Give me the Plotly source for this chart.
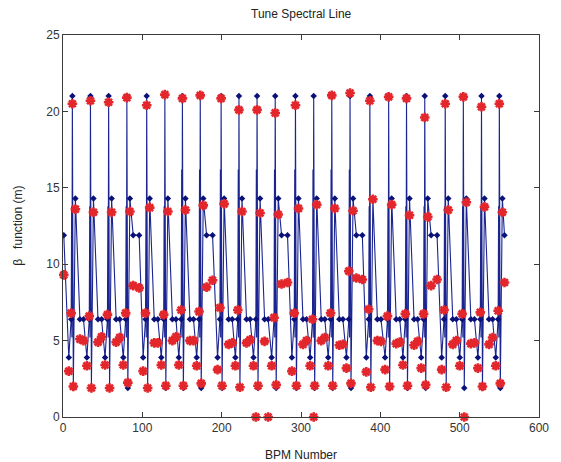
import plotly.graph_objects as go

# BPM positions (BPM number axis)
bpm_x = [
    1.0, 7.3,
    10.3, 11.8, 13.0, 15.6, 21.3, 25.8, 30.1,
    33.1, 34.6, 35.8, 38.4, 44.1, 48.6, 53.0,
    56.0, 57.5, 58.7, 61.3, 67.0, 71.5, 76.0,
    79.0, 80.5, 81.7, 84.3, 88.5, 96.0, 101.0,
    104.0, 105.5, 106.7, 109.3, 115.0, 119.5, 123.9,
    126.9, 128.4, 129.6, 132.2, 137.9, 142.4, 146.0,
    149.0, 150.5, 151.7, 154.3, 160.0, 164.5, 168.5,
    171.5, 173.0, 174.2, 176.8, 181.0, 188.5, 194.8,
    197.8, 199.3, 200.5, 203.1, 208.8, 213.3, 217.3,
    220.3, 221.8, 223.0, 225.6, 231.3, 235.8, 240.1,
    243.1, 244.6, 245.8, 248.4, 254.1, 258.6, 263.0,
    266.0, 267.5, 268.7, 271.3, 275.5, 283.0, 288.5,
    291.5, 293.0, 294.2, 296.8, 302.5, 307.0, 311.5,
    314.5, 316.0, 317.2, 319.8, 325.5, 330.0, 334.3,
    337.3, 338.8, 340.0, 342.6, 348.3, 352.8, 357.3,
    360.3, 361.8, 363.0, 365.6, 369.8, 377.3, 382.3,
    385.3, 386.8, 388.0, 390.6, 396.3, 400.8, 406.0,
    409.0, 410.5, 411.7, 414.3, 420.0, 424.5, 428.5,
    431.5, 433.0, 434.2, 436.8, 442.5, 447.0, 451.5,
    454.5, 456.0, 457.2, 459.8, 464.0, 471.5, 477.3,
    480.3, 481.8, 483.0, 485.6, 491.3, 495.8, 500.1,
    503.1, 504.6, 505.8, 508.4, 514.1, 518.6, 523.0,
    526.0, 527.5, 528.7, 531.3, 537.0, 541.5, 545.5,
    548.5, 550.0, 551.2, 553.8, 556.5,
]

# model beta function at the BPMs (blue)
beta_model = [
    11.9, 3.9,
    6.4, 21.0, 1.9, 14.3, 6.4, 6.4, 3.9,
    6.4, 21.0, 1.9, 14.3, 6.4, 6.4, 3.9,
    6.4, 21.0, 1.9, 14.3, 6.4, 6.4, 3.9,
    6.4, 21.0, 1.9, 14.3, 11.9, 11.9, 3.9,
    6.4, 21.0, 1.9, 14.3, 6.4, 6.4, 3.9,
    6.4, 21.0, 1.9, 14.3, 6.4, 6.4, 3.9,
    6.4, 21.0, 1.9, 14.3, 6.4, 6.4, 3.9,
    6.4, 21.0, 1.9, 14.3, 11.9, 11.9, 3.9,
    6.4, 21.0, 1.9, 14.3, 6.4, 6.4, 3.9,
    6.4, 21.0, 1.9, 14.3, 6.4, 6.4, 3.9,
    6.4, 21.0, 1.9, 14.3, 6.4, 6.4, 3.9,
    6.4, 21.0, 1.9, 14.3, 11.9, 11.9, 3.9,
    6.4, 21.0, 1.9, 14.3, 6.4, 6.4, 3.9,
    6.4, 21.0, 1.9, 14.3, 6.4, 6.4, 3.9,
    6.4, 21.0, 1.9, 14.3, 6.4, 6.4, 3.9,
    6.4, 21.0, 1.9, 14.3, 11.9, 11.9, 3.9,
    6.4, 21.0, 1.9, 14.3, 6.4, 6.4, 3.9,
    6.4, 21.0, 1.9, 14.3, 6.4, 6.4, 3.9,
    6.4, 21.0, 1.9, 14.3, 6.4, 6.4, 3.9,
    6.4, 21.0, 1.9, 14.3, 11.9, 11.9, 3.9,
    6.4, 21.0, 1.9, 14.3, 6.4, 6.4, 3.9,
    6.4, 21.0, 1.9, 14.3, 6.4, 6.4, 3.9,
    6.4, 21.0, 1.9, 14.3, 6.4, 6.4, 3.9,
    6.4, 21.0, 1.9, 14.3, 11.9,
]

# measured beta function from the tune spectral line (red)
beta_meas = [
    9.3, 3.0,
    6.8, 20.5, 2.0, 13.6, 5.1, 5.0, 3.35,
    6.6, 20.7, 1.9, 13.4, 4.9, 5.25, 3.4,
    6.7, 20.6, 1.9, 13.4, 4.9, 5.2, 3.4,
    6.8, 20.9, 2.25, 13.45, 8.6, 8.45, 3.0,
    6.8, 20.4, 1.9, 13.7, 4.85, 4.85, 3.4,
    6.7, 21.1, 2.05, 13.45, 5.0, 5.25, 3.4,
    7.0, 20.85, 2.05, 13.55, 5.0, 5.0, 3.35,
    6.9, 21.05, 2.2, 13.85, 8.5, 8.95, 3.1,
    7.15, 20.85, 2.05, 13.95, 4.75, 4.85, 3.35,
    7.0, 20.1, 1.95, 13.45, 4.85, 5.05, 3.35,
    0.0, 20.1, 2.05, 13.35, 4.95, 0.0, 3.35,
    6.5, 19.9, 2.1, 13.25, 8.7, 8.8, 3.0,
    6.8, 20.4, 2.05, 13.65, 4.75, 5.0, 3.35,
    6.4, 0.0, 2.05, 13.9, 5.0, 5.2, 3.35,
    6.8, 21.05, 2.05, 13.65, 4.7, 4.75, 3.2,
    9.55, 21.2, 2.2, 13.5, 9.1, 9.0, 2.95,
    7.05, 20.7, 1.95, 14.25, 5.0, 4.95, 3.1,
    6.6, 20.95, 2.0, 13.9, 4.8, 4.9, 3.4,
    6.75, 20.85, 2.05, 13.2, 4.7, 4.95, 3.2,
    6.75, 19.6, 2.1, 13.1, 8.6, 9.0, 3.1,
    7.0, 20.5, 1.95, 13.55, 4.75, 5.0, 3.35,
    6.75, 20.95, 0.0, 14.05, 4.8, 4.85, 3.2,
    6.85, 20.3, 2.0, 13.75, 4.75, 5.2, 3.35,
    6.95, 20.5, 2.2, 13.4, 8.8,
]

# extra samples of the model curve between BPMs (narrow spikes just before each peak)
spike_x = [
    10.9, 11.2, 33.7, 34.0, 56.6, 56.9, 79.6, 79.9,
    104.6, 104.9, 127.5, 127.8, 149.6, 149.9, 172.1, 172.4,
    198.4, 198.7, 220.9, 221.2, 243.7, 244.0, 266.6, 266.9,
    292.1, 292.4, 315.1, 315.4, 337.9, 338.2, 360.9, 361.2,
    385.9, 386.2, 409.6, 409.9, 432.1, 432.4, 455.1, 455.4,
    480.9, 481.2, 503.7, 504.0, 526.6, 526.9, 549.1, 549.4,
]
spike_y = [
    13.8, 5.2, 13.8, 5.2, 13.8, 5.2, 13.8, 5.2,
    13.8, 5.2, 13.8, 5.2, 16.2, 5.2, 16.2, 5.2,
    16.2, 5.2, 16.2, 5.2, 16.2, 5.2, 16.2, 5.2,
    16.2, 5.2, 16.2, 5.2, 16.2, 5.2, 16.2, 5.2,
    13.8, 5.2, 13.8, 5.2, 13.8, 5.2, 13.8, 5.2,
    13.8, 5.2, 13.8, 5.2, 13.8, 5.2, 13.8, 5.2,
]

x_ticks = [0, 100, 200, 300, 400, 500, 600]
y_ticks = [0, 5, 10, 15, 20, 25]

title_text = "Tune Spectral Line"
x_label = "BPM Number"
y_label = "\u03b2   function (m)"

FONT = "Liberation Sans, Arial, sans-serif"
LINE_C = "#1b2590"

# model curve = BPM samples + extra samples, ordered along the ring
curve = sorted(list(zip(bpm_x, beta_model)) + list(zip(spike_x, spike_y)))
curve_x = [p[0] for p in curve]
curve_y = [p[1] for p in curve]

fig = go.Figure()
fig.add_trace(go.Scatter(
    x=curve_x, y=curve_y, mode="lines",
    line=dict(color=LINE_C, width=1.1),
    showlegend=False, hoverinfo="skip",
))
fig.add_trace(go.Scatter(
    x=bpm_x, y=beta_model, mode="markers",
    marker=dict(symbol="diamond", size=5, color="#0a1178"),
    showlegend=False,
))
fig.add_trace(go.Scatter(
    x=bpm_x, y=beta_meas, mode="markers",
    marker=dict(symbol="asterisk", size=8, color="#e3262b",
                line=dict(color="#e3262b", width=2.6)),
    showlegend=False, cliponaxis=False,
))

axis_common = dict(
    showgrid=False, zeroline=False, showline=True, mirror="allticks",
    linecolor="#3a3a3a", linewidth=1, ticks="inside", ticklen=5,
    tickcolor="#3a3a3a", tickfont=dict(family=FONT, size=12, color="#333333"),
)
fig.update_xaxes(range=[0, 600], tickvals=x_ticks, **axis_common)
fig.update_yaxes(range=[0, 25], tickvals=y_ticks, **axis_common)

# the page body has an 8 px margin, so the figure is shifted by (8, 8)
fig.update_layout(
    width=553, height=454,
    margin=dict(l=55, r=18, t=27, b=45),
    paper_bgcolor="white", plot_bgcolor="white",
    font=dict(family=FONT, size=12, color="#333333"),
    annotations=[
        dict(text=title_text, xref="paper", yref="paper", x=0.5, y=1.055,
             showarrow=False, xanchor="center", yanchor="middle",
             font=dict(family=FONT, size=12, color="#222222")),
        dict(text=x_label, xref="paper", yref="paper", x=0.5, y=-0.1,
             showarrow=False, xanchor="center", yanchor="middle",
             font=dict(family=FONT, size=12, color="#222222")),
        dict(text=y_label, xref="paper", yref="paper", x=-0.095, y=0.5,
             showarrow=False, xanchor="center", yanchor="middle", textangle=-90,
             font=dict(family=FONT, size=12, color="#222222")),
    ],
)

fig.write_html("out.html")
